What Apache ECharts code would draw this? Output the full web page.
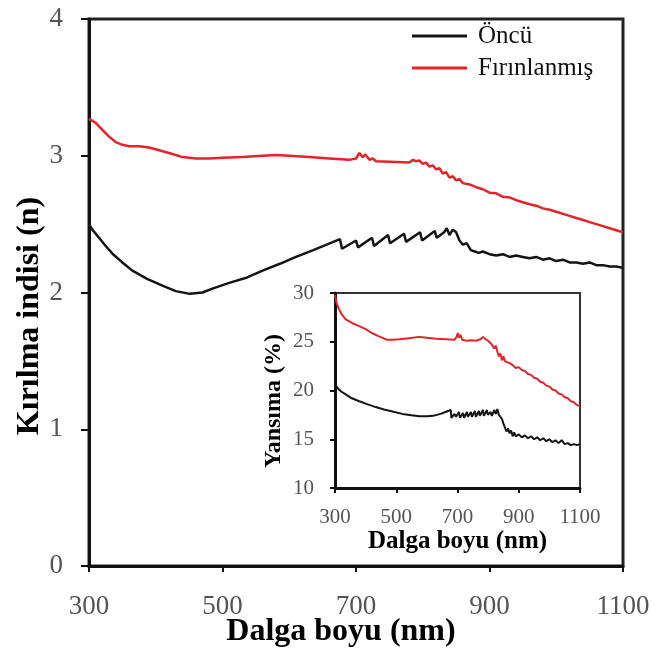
<!DOCTYPE html>
<html>
<head>
<meta charset="utf-8">
<script src="https://cdn.jsdelivr.net/npm/echarts@6/dist/echarts.min.js"></script>
<style>
html,body{margin:0;padding:0;background:#fff;}
#chart{width:656px;height:650px;}
</style>
</head>
<body>
<div id="chart"></div>
<script>
// ---- Main chart: refractive index (n) vs wavelength (nm) ----
const wlMainOncu = [300,305,315,325,336,350,365,387,410,430,451,470,486,510,537,560,586,610,636,656,676,679,700,703,724,727,748,751,772,775,796,799,818,821,832,836,840,845,850,855,860,866,872,878,884,890,900,910,920,930,940,950,960,970,980,990,1000,1010,1020,1030,1040,1050,1060,1070,1080,1090,1100];
const nOncu = [2.50,2.46,2.40,2.34,2.28,2.22,2.16,2.10,2.05,2.01,1.99,2.00,2.03,2.07,2.11,2.16,2.21,2.26,2.31,2.35,2.39,2.32,2.38,2.33,2.40,2.34,2.42,2.36,2.43,2.37,2.44,2.38,2.45,2.40,2.44,2.47,2.42,2.46,2.44,2.38,2.35,2.36,2.31,2.30,2.29,2.30,2.28,2.27,2.28,2.26,2.27,2.26,2.25,2.26,2.24,2.25,2.23,2.24,2.22,2.22,2.21,2.22,2.20,2.20,2.19,2.19,2.18];

const wlMainFirin = [300,310,320,330,340,350,360,375,390,405,420,440,460,480,500,530,560,580,600,630,660,690,700,705,710,714,720,725,730,760,780,785,790,795,800,805,810,815,820,825,830,835,840,845,850,855,860,870,880,890,900,910,920,930,940,950,960,970,980,990,1000,1010,1020,1030,1040,1050,1060,1070,1080,1090,1100];
const nFirin = [3.27,3.24,3.19,3.14,3.10,3.08,3.07,3.07,3.06,3.04,3.02,2.99,2.98,2.98,2.985,2.99,3.00,3.005,3.00,2.99,2.98,2.97,2.98,3.02,2.99,3.01,2.97,2.98,2.96,2.955,2.95,2.97,2.96,2.965,2.94,2.95,2.92,2.93,2.90,2.91,2.87,2.88,2.84,2.85,2.82,2.83,2.80,2.79,2.77,2.755,2.73,2.725,2.70,2.695,2.675,2.66,2.645,2.635,2.615,2.605,2.59,2.575,2.56,2.545,2.53,2.515,2.50,2.485,2.47,2.455,2.44];

// ---- Inset: reflectance (%) vs wavelength (nm) ----
const wlInsetOncu = [300,310,320,335,355,379,405,433,460,488,520,550,575,600,620,645,665,678,680,690,695,705,708,718,721,731,734,744,747,757,760,770,773,783,786,796,799,808,812,820,825,830,835,840,845,850,855,860,865,870,875,880,885,890,900,910,920,930,940,950,960,970,980,990,1000,1010,1020,1030,1040,1050,1060,1070,1080,1090,1100];
const rOncu = [20.6,20.2,19.9,19.6,19.2,18.9,18.6,18.3,18.05,17.85,17.6,17.45,17.35,17.35,17.4,17.6,17.85,18.0,17.2,17.6,17.3,17.8,17.2,17.7,17.2,17.8,17.3,17.8,17.3,17.9,17.3,17.9,17.4,18.0,17.4,18.0,17.5,17.8,17.4,18.0,17.6,18.1,17.5,17.7,17.1,16.6,16.2,15.8,16.1,15.6,15.9,15.3,15.7,15.3,15.5,15.2,15.4,15.1,15.3,15.0,15.2,14.9,15.1,14.8,15.0,14.7,14.9,14.6,14.9,14.5,14.6,14.4,14.5,14.4,14.5];

const wlInsetFirin = [300,305,312,322,335,357,379,400,420,440,455,470,488,510,540,575,600,630,663,690,697,701,705,710,715,720,730,745,760,775,783,790,796,800,805,810,815,820,825,830,835,840,845,850,855,860,870,880,890,900,910,920,930,940,950,960,970,980,990,1000,1010,1020,1030,1040,1050,1060,1070,1080,1090,1100];
const rFirin = [29.8,29.0,28.4,27.8,27.3,26.9,26.6,26.3,25.9,25.6,25.4,25.2,25.2,25.25,25.35,25.5,25.4,25.3,25.25,25.2,25.5,25.9,25.4,25.7,25.2,25.3,25.1,25.15,25.1,25.25,25.5,25.3,25.5,25.1,25.2,24.8,24.9,24.3,24.6,24.0,23.5,23.8,23.1,23.5,23.0,23.2,22.8,22.6,22.3,22.4,22.1,22.0,21.7,21.6,21.3,21.2,20.9,20.8,20.5,20.4,20.1,20.0,19.7,19.6,19.3,19.2,18.9,18.8,18.5,18.4];

const seriesNames = ['Öncü', 'Fırınlanmış'];
const mainTitles = {x: 'Dalga boyu (nm)', y: 'Kırılma indisi (n)'};
const insetTitles = {x: 'Dalga boyu (nm)', y: 'Yansıma (%)'};

const zip = (xs, ys) => xs.map((x, i) => [x, ys[i]]);
const plain = v => String(v);
const FONT = '"Liberation Serif", "Times New Roman", serif';
const BLACK = '#141414';
const RED = '#e3242b';

const chart = echarts.init(document.getElementById('chart'), null, {renderer: 'canvas'});

const option = {
  backgroundColor: '#fff',
  animation: false,
  legend: {
    data: seriesNames,
    orient: 'vertical',
    left: 412,
    top: 20,
    padding: 0,
    icon: 'rect',
    itemWidth: 55,
    itemHeight: 3,
    itemGap: 0,
    textStyle: {fontFamily: FONT, fontSize: 25, color: '#111', lineHeight: 32, padding: [0, 0, 0, 6]}
  },
  grid: [
    {left: 89, top: 19, width: 534, height: 547, show: true, borderColor: '#222', borderWidth: 3, backgroundColor: 'transparent', outerBoundsMode: 'none', containLabel: false},
    {left: 335, top: 293, width: 245, height: 195, show: true, borderColor: '#333', borderWidth: 2, backgroundColor: '#fff', outerBoundsMode: 'none', containLabel: false}
  ],
  xAxis: [
    {
      gridIndex: 0, type: 'value', min: 300, max: 1100, interval: 200,
      name: mainTitles.x, nameLocation: 'middle', nameGap: 50, nameMoveOverlap: false,
      nameTextStyle: {fontFamily: FONT, fontSize: 32, fontWeight: 'bold', color: '#000', padding: [0, 30, 0, 0]},
      axisLine: {show: true, onZero: false, lineStyle: {color: '#111', width: 3}},
      axisTick: {show: true, inside: false, length: 6, lineStyle: {color: '#111', width: 2}},
      axisLabel: {fontFamily: FONT, fontSize: 27, color: '#555', margin: 27, showMinLabel: true, showMaxLabel: true, formatter: plain},
      splitLine: {show: false}
    },
    {
      gridIndex: 1, type: 'value', min: 300, max: 1100, interval: 200,
      name: insetTitles.x, nameLocation: 'middle', nameGap: 40,
      nameTextStyle: {fontFamily: FONT, fontSize: 25, fontWeight: 'bold', color: '#000'},
      axisLine: {show: true, onZero: false, lineStyle: {color: '#111', width: 3}},
      axisTick: {show: true, inside: false, length: 5, lineStyle: {color: '#111', width: 2}},
      axisLabel: {fontFamily: FONT, fontSize: 21, color: '#555', margin: 19, showMinLabel: true, showMaxLabel: true, formatter: plain},
      splitLine: {show: false}
    }
  ],
  yAxis: [
    {
      gridIndex: 0, type: 'value', min: 0, max: 4, interval: 1,
      name: mainTitles.y, nameLocation: 'middle', nameGap: 43, nameRotate: 90, nameMoveOverlap: false,
      nameTextStyle: {fontFamily: FONT, fontSize: 32, fontWeight: 'bold', color: '#000', padding: [0, 47, 0, 0]},
      axisLine: {show: true, onZero: false, lineStyle: {color: '#111', width: 3}},
      axisTick: {show: true, inside: false, length: 8, lineStyle: {color: '#111', width: 2}},
      axisLabel: {fontFamily: FONT, fontSize: 27, color: '#555', margin: 26, formatter: plain},
      splitLine: {show: false}
    },
    {
      gridIndex: 1, type: 'value', min: 10, max: 30, interval: 5,
      name: insetTitles.y, nameLocation: 'middle', nameGap: 49, nameRotate: 90,
      nameTextStyle: {fontFamily: FONT, fontSize: 24, fontWeight: 'bold', color: '#000', padding: [0, 21, 0, 0]},
      axisLine: {show: true, onZero: false, lineStyle: {color: '#111', width: 3}},
      axisTick: {show: true, inside: false, length: 5, lineStyle: {color: '#111', width: 2}},
      axisLabel: {fontFamily: FONT, fontSize: 21, color: '#555', margin: 21, formatter: plain},
      splitLine: {show: false}
    }
  ],
  series: [
    {name: seriesNames[0], type: 'line', xAxisIndex: 0, yAxisIndex: 0, data: zip(wlMainOncu, nOncu), showSymbol: false, symbol: 'none', lineStyle: {color: BLACK, width: 2.5}, itemStyle: {color: BLACK}},
    {name: seriesNames[1], type: 'line', xAxisIndex: 0, yAxisIndex: 0, data: zip(wlMainFirin, nFirin), showSymbol: false, symbol: 'none', lineStyle: {color: RED, width: 2.5}, itemStyle: {color: RED}},
    {name: seriesNames[0], type: 'line', xAxisIndex: 1, yAxisIndex: 1, data: zip(wlInsetOncu, rOncu), showSymbol: false, symbol: 'none', lineStyle: {color: BLACK, width: 2}, itemStyle: {color: BLACK}, z: 5},
    {name: seriesNames[1], type: 'line', xAxisIndex: 1, yAxisIndex: 1, data: zip(wlInsetFirin, rFirin), showSymbol: false, symbol: 'none', lineStyle: {color: RED, width: 2}, itemStyle: {color: RED}, z: 5}
  ]
};
chart.setOption(option);
</script>
</body>
</html>
